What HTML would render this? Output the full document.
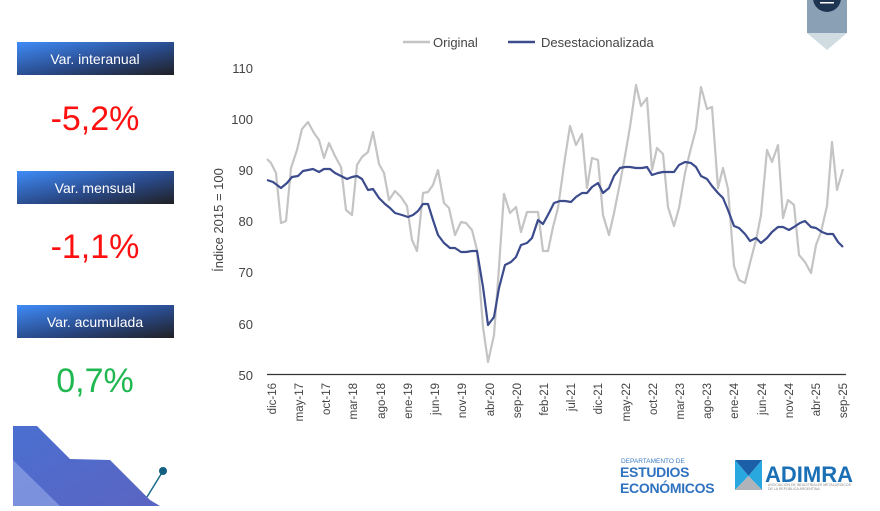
<!DOCTYPE html>
<html><head><meta charset="utf-8"><style>
body{margin:0;width:880px;height:506px;overflow:hidden;background:#fff;font-family:"Liberation Sans",sans-serif}
</style></head><body>
<svg width="880" height="506" viewBox="0 0 880 506" xmlns="http://www.w3.org/2000/svg" font-family="Liberation Sans, sans-serif">
<defs>
<linearGradient id="g" x1="0" y1="0" x2="1" y2="1"><stop offset="0" stop-color="#3f8cf8"/><stop offset="0.55" stop-color="#2a4a8a"/><stop offset="1" stop-color="#202024"/></linearGradient>
<linearGradient id="d" x1="0" y1="0" x2="1" y2="1"><stop offset="0" stop-color="#4a6fd0"/><stop offset="1" stop-color="#5b64c2"/></linearGradient>
</defs>
<rect x="807" y="0" width="40" height="33" fill="#8aa0b4"/>
<polygon points="807,33 847,33 827,50" fill="#d0dbe2"/>
<circle cx="827" cy="-2" r="14" fill="#1e3552"/>
<rect x="820" y="2" width="14" height="1.5" fill="#fff"/>
<rect x="17" y="42" width="157" height="33" fill="url(#g)"/>
<text x="95" y="64" font-size="14" fill="#fff" text-anchor="middle">Var. interanual</text>
<text x="95" y="130" font-size="34" fill="#ff1010" text-anchor="middle">-5,2%</text>
<rect x="17" y="171" width="157" height="33" fill="url(#g)"/>
<text x="95" y="193" font-size="14" fill="#fff" text-anchor="middle">Var. mensual</text>
<text x="95" y="258" font-size="34" fill="#ff1010" text-anchor="middle">-1,1%</text>
<rect x="17" y="305" width="157" height="33" fill="url(#g)"/>
<text x="95" y="327" font-size="14" fill="#fff" text-anchor="middle">Var. acumulada</text>
<text x="95" y="392" font-size="34" fill="#1fb850" text-anchor="middle">0,7%</text>
<polygon points="13,426 37,426 70,459 110,460 150,500 160,506 13,506" fill="url(#d)"/>
<polygon points="13,460 60,506 13,506" fill="#8fa3e6" opacity="0.7"/>
<line x1="163" y1="471" x2="147" y2="497" stroke="#1a6a8a" stroke-width="1.5"/>
<circle cx="163" cy="471" r="4" fill="#135f80"/>
<line x1="403" y1="42" x2="430" y2="42" stroke="#c4c4c4" stroke-width="2.5"/>
<text x="433" y="47" font-size="13" fill="#444">Original</text>
<line x1="508" y1="42" x2="535" y2="42" stroke="#3b4b8c" stroke-width="2.5"/>
<text x="541" y="47" font-size="13" fill="#444">Desestacionalizada</text>
<g font-size="13" fill="#444" text-anchor="end">
<text x="253" y="73">110</text><text x="253" y="124">100</text><text x="253" y="175">90</text><text x="253" y="226">80</text><text x="253" y="277">70</text><text x="253" y="329">60</text><text x="253" y="380">50</text>
</g>
<text transform="translate(223,220) rotate(-90)" font-size="13" fill="#444" text-anchor="middle">Índice 2015 = 100</text>
<line x1="267" y1="374.5" x2="846" y2="374.5" stroke="#333" stroke-width="1.2"/>
<g font-size="11.5" fill="#444" text-anchor="end">
<text transform="translate(276,383) rotate(-90)">dic-16</text>
<text transform="translate(303,383) rotate(-90)">may-17</text>
<text transform="translate(330,383) rotate(-90)">oct-17</text>
<text transform="translate(357,383) rotate(-90)">mar-18</text>
<text transform="translate(385,383) rotate(-90)">ago-18</text>
<text transform="translate(412,383) rotate(-90)">ene-19</text>
<text transform="translate(439,383) rotate(-90)">jun-19</text>
<text transform="translate(466,383) rotate(-90)">nov-19</text>
<text transform="translate(494,383) rotate(-90)">abr-20</text>
<text transform="translate(521,383) rotate(-90)">sep-20</text>
<text transform="translate(548,383) rotate(-90)">feb-21</text>
<text transform="translate(575,383) rotate(-90)">jul-21</text>
<text transform="translate(602,383) rotate(-90)">dic-21</text>
<text transform="translate(630,383) rotate(-90)">may-22</text>
<text transform="translate(657,383) rotate(-90)">oct-22</text>
<text transform="translate(684,383) rotate(-90)">mar-23</text>
<text transform="translate(711,383) rotate(-90)">ago-23</text>
<text transform="translate(738,383) rotate(-90)">ene-24</text>
<text transform="translate(766,383) rotate(-90)">jun-24</text>
<text transform="translate(793,383) rotate(-90)">nov-24</text>
<text transform="translate(820,383) rotate(-90)">abr-25</text>
<text transform="translate(847,383) rotate(-90)">sep-25</text>
</g>
<polyline fill="none" stroke="#c4c4c4" stroke-width="2.2" stroke-linejoin="round" points="267,159 271,163 276,173 281,223 286,221 291,168 297,150 302,129 308,122 314,133 319,140 324,158 329,143 335,156 341,167 346,210 352,215 357,165 362,157 368,152 373,132 379,164 384,173 389,200 395,191 401,197 407,206 412,240 417,251 423,193 428,192 433,185 438,170 444,203 449,208 455,235 461,222 466,223 472,230 477,250 483,327 488,362 494,335 499,267 504,194 510,213 516,207 521,232 527,212 538,212 543,251 548,251 553,227 558,208 565,158 570,126 576,145 582,134 587,188 592,158 598,160 603,215 609,235 614,213 620,183 625,156 630,127 636,85 641,106 647,98 652,170 657,148 663,154 668,207 674,226 679,208 685,173 690,152 696,129 701,87 707,109 712,107 718,188 723,168 728,189 734,266 739,280 745,283 750,263 756,240 761,215 767,150 772,162 778,145 783,218 788,200 794,205 799,255 805,262 811,273 816,245 821,232 827,206 832,142 837,190 843,169"/>
<polyline fill="none" stroke="#3b4b8c" stroke-width="2.2" stroke-linejoin="round" points="267,180 273,182 281,188 287,183 292,177 298,176 303,171 308,170 313,169 319,172 324,169 330,169 335,173 341,176 347,179 352,177 357,176 362,179 368,190 373,189 379,198 385,204 390,208 395,213 402,215 408,217 413,215 418,211 423,204 428,204 433,220 438,235 444,243 450,248 455,248 461,252 466,252 472,251 477,251 483,287 488,325 494,317 499,288 505,265 511,262 516,257 521,245 527,243 532,238 538,220 543,224 549,213 554,203 560,201 565,201 571,202 576,197 582,193 587,193 592,187 598,183 603,193 609,188 614,176 620,168 625,167 630,167 636,168 642,168 647,167 652,175 658,173 663,172 668,172 674,172 679,165 685,162 691,163 696,167 701,176 707,179 712,186 718,193 723,198 728,210 734,226 739,228 745,234 750,241 756,238 761,243 767,238 772,232 778,227 783,227 789,230 794,227 800,223 805,221 811,227 816,228 822,232 827,234 833,234 838,242 843,247"/>
<text x="621" y="463" font-size="6.5" fill="#3b7dc4">DEPARTAMENTO DE</text>
<text x="620" y="477" font-size="14" font-weight="bold" fill="#2f72c0" letter-spacing="-0.3">ESTUDIOS</text>
<text x="620" y="493" font-size="14" font-weight="bold" fill="#2f72c0" letter-spacing="-0.3">ECONÓMICOS</text>
<polygon points="735,460 762,460 748.5,476" fill="#1b5fa8"/>
<polygon points="735,460 748.5,476 735,490" fill="#29a8e0"/>
<polygon points="762,460 748.5,476 762,490" fill="#29a8e0"/>
<polygon points="735,490 748.5,476 762,490" fill="#b0b4b8"/>
<text x="765" y="482" font-size="22" font-weight="bold" fill="#1b6fb5">ADIMRA</text>
<text x="768" y="486" font-size="3.5" fill="#888">ASOCIACIÓN DE INDUSTRIALES METALÚRGICOS</text>
<text x="768" y="490" font-size="3.5" fill="#888">DE LA REPÚBLICA ARGENTINA</text>
</svg>
</body></html>
